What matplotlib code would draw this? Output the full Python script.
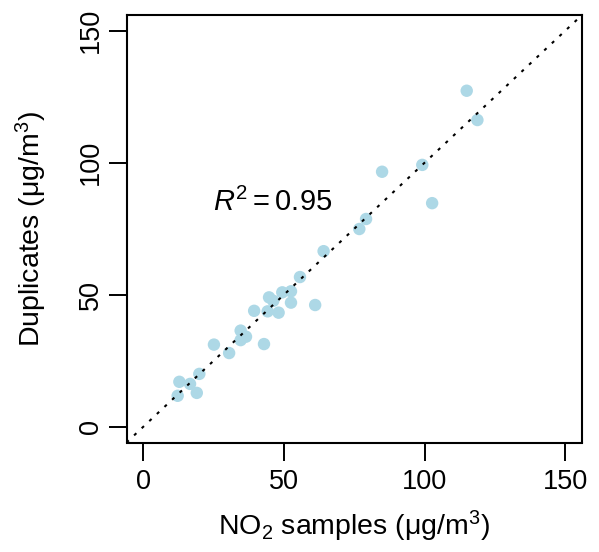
import matplotlib
matplotlib.use("Agg")
import matplotlib.pyplot as plt

plt.rcParams['font.family'] = ['Liberation Sans', 'DejaVu Sans']
plt.rcParams['mathtext.fontset'] = 'custom'
plt.rcParams['mathtext.rm'] = 'Liberation Sans'
plt.rcParams['mathtext.it'] = 'Liberation Sans:italic'
plt.rcParams['mathtext.bf'] = 'Liberation Sans:bold'

no2_samples = [115.0, 118.8, 84.9, 99.2, 102.7, 79.2, 76.8, 64.1, 55.7, 61.1,
               44.7, 46.2, 49.4, 52.5, 52.5, 39.4, 44.2, 48.1, 34.6, 36.5,
               34.6, 42.9, 25.1, 30.5, 12.8, 16.6, 19.9, 19.0, 12.2]
duplicates = [127.3, 116.2, 96.6, 99.2, 84.7, 78.7, 74.9, 66.5, 56.7, 46.1,
              49.0, 47.7, 50.9, 51.3, 47.0, 43.9, 43.7, 43.2, 36.4, 34.1,
              32.8, 31.3, 31.1, 27.9, 17.0, 16.2, 20.0, 12.8, 11.7]
ticks = [0, 50, 100, 150]
r2_text = r'$R^2 = 0.95$'

fig = plt.figure(figsize=(5.99, 5.52), dpi=100)
ax = fig.add_axes([126.5/599, 1 - 442.5/552, (582 - 126.5)/599, (442.5 - 15)/552])

ax.scatter(no2_samples, duplicates, s=80, color='#ADD8E6', edgecolors='none', zorder=2)
ax.axline((0, 0), slope=1, color='black', lw=1.5, linestyle=(0, (1.5, 3.5)), zorder=3)

ax.set_xlim(-6, 156)
ax.set_ylim(-6, 156)
ax.set_xticks(ticks)
ax.set_yticks(ticks)
ax.set_xticklabels([str(t) for t in ticks], fontsize=19.5)
ax.set_yticklabels([str(t) for t in ticks], fontsize=19.5, rotation=90, va='center')
ax.tick_params(axis='both', length=13, width=1.4, direction='out')
ax.tick_params(axis='x', pad=6)
ax.tick_params(axis='y', pad=3)
for sp in ax.spines.values():
    sp.set_linewidth(1.5)

ax.text(46, 85, r2_text, fontsize=21, ha='center', va='center')

ax.set_xlabel(r'NO$_2$ samples (μg/m$^3$)', fontsize=20.5, va='center')
ax.xaxis.set_label_coords(0.5, (442.5 - 526) / 427.5)
ax.set_ylabel(r'Duplicates (μg/m$^3$)', fontsize=20.5, va='center')
ax.yaxis.set_label_coords((31 - 126.5) / 455.5, 0.5)

fig.savefig('out.png', dpi=100)
